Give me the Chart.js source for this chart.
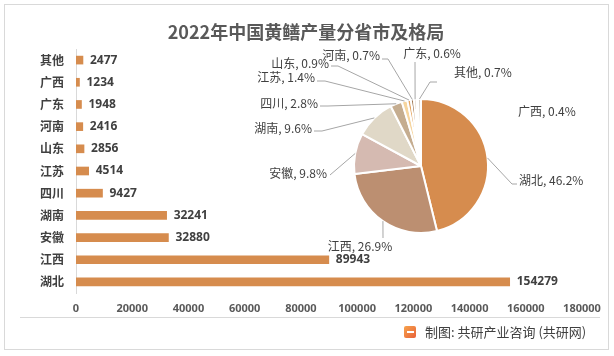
<!DOCTYPE html>
<html><head><meta charset="utf-8">
<script src="https://cdn.jsdelivr.net/npm/chart.js@4"></script>
<style>
html,body{margin:0;padding:0;background:#fff;}
#wrap{position:relative;width:614px;height:356px;overflow:hidden;font-family:"Noto Sans CJK SC","Noto Sans",sans-serif;}
canvas{position:absolute;left:0;top:0;}
#frame{position:absolute;left:4px;top:4px;width:605px;height:346px;border:1px solid #D9D9D9;box-sizing:border-box;}
#sep{position:absolute;left:20px;top:317px;width:580px;height:1px;background:#D9D9D9;}
#title{position:absolute;left:0;top:18px;width:612px;text-align:center;font-weight:bold;font-size:18px;line-height:26px;color:#595959;}
#foot{position:absolute;left:425px;top:323px;font-size:13px;line-height:18px;color:#404040;white-space:nowrap;}
#logo{position:absolute;left:404px;top:326px;width:12px;height:12px;border-radius:2px;background:linear-gradient(135deg,#F7A34B,#E8613A);}
#logo:after{content:"";position:absolute;left:3px;top:5px;width:7px;height:2px;background:#fff;}
</style></head>
<body>
<div id="wrap">
  <div id="frame"></div>
  <canvas id="bar" width="614" height="356"></canvas>
  <canvas id="pie" width="614" height="356"></canvas>
  <div id="sep"></div>
  <div id="title">2022年中国黄鳝产量分省市及格局</div>
  <div id="logo"></div>
  <div id="foot">制图: 共研产业咨询 (共研网)</div>
</div>
<script>
// ---- data ----
const categories = ['其他','广西','广东','河南','山东','江苏','四川','湖南','安徽','江西','湖北'];
const output = [2477,1234,1948,2416,2856,4514,9427,32241,32880,89943,154279];
const xTickValues = [0,20000,40000,60000,80000,100000,120000,140000,160000,180000];
const pieOrder = ['湖北','江西','安徽','湖南','四川','江苏','山东','河南','广东','广西','其他'];
const pieValues = pieOrder.map(n => output[categories.indexOf(n)]);

// ---- styles ----
const barColor = '#D68C4E';
const pieColors = ['#D68C4E','#BC8F71','#D5BAB1','#E0D8C7','#C5AD90','#F6D59E','#E5A561','#8C5A2E','#A87A55','#E8D2B8','#D9D0C5'];
const textColor = '#404040';

const barLabelPlugin = {
  id:'barLabels',
  afterDatasetsDraw(chart){
    const ctx = chart.ctx;
    const meta = chart.getDatasetMeta(0);
    ctx.save();
    ctx.font = 'bold 12px "Noto Sans","Noto Sans CJK SC",sans-serif';
    ctx.fillStyle = textColor;
    ctx.textAlign = 'left';
    ctx.textBaseline = 'middle';
    meta.data.forEach((el,i)=>{
      ctx.fillText(String(chart.data.datasets[0].data[i]), el.x + 7, el.y);
    });
    ctx.restore();
  }
};

new Chart(document.getElementById('bar'), {
  type:'bar',
  data:{labels:categories, datasets:[{data:output, backgroundColor:barColor, barThickness:8}]},
  options:{
    indexAxis:'y', responsive:false, animation:false,
    layout:{padding:{left:0,right:32,top:49,bottom:36}},
    plugins:{legend:{display:false}, tooltip:{enabled:false}},
    scales:{
      x:{min:0,max:180000,
         afterBuildTicks(s){ s.ticks = xTickValues.map(v=>({value:v})); },
         afterFit(s){ s.height = 27; },
         grid:{display:false, drawTicks:false}, border:{display:false},
         ticks:{padding:9, maxRotation:0, autoSkip:false, color:'#595959',
                callback:(v)=>String(v),
                font:{size:11, weight:'bold', family:'"Noto Sans",sans-serif'}}},
      y:{afterFit(s){ s.width = 76; },
         grid:{display:false, drawTicks:false}, border:{display:true, color:'#D9D9D9'},
         ticks:{padding:12, color:textColor, font:{size:12, weight:'bold', family:'"Noto Sans CJK SC",sans-serif'}}}
    }
  },
  plugins:[barLabelPlugin]
});

// label placement for pie (positions only)
const pieLabelLayout = {
  '湖北':{tx:519,ty:180,align:'left',path:[[512,184],[517,184]]},
  '江西':{tx:360,ty:246,align:'center',path:[[383,238]]},
  '安徽':{tx:327,ty:173,align:'right',path:[[330,175]]},
  '湖南':{tx:312,ty:128,align:'right',path:[[322,131],[314,131]]},
  '四川':{tx:318,ty:103,align:'right',path:[[328,106],[320,106]]},
  '江苏':{tx:315,ty:77,align:'right',path:[[325,81],[317,81]]},
  '山东':{tx:329,ty:63,align:'right',path:[[338,66],[331,66]]},
  '河南':{tx:380,ty:55,align:'right',path:[[388,59],[382,59]]},
  '广东':{tx:432,ty:53,align:'center',path:[[415,62]]},
  '广西':{tx:518,ty:111,align:'left',path:null},
  '其他':{tx:454,ty:72,align:'left',path:[[430,82],[437,82]]}
};

const pieLabelPlugin = {
  id:'pieLabels',
  afterDatasetsDraw(chart){
    const ctx = chart.ctx;
    const ds = chart.data.datasets[0];
    const total = ds.data.reduce((a,b)=>a+b,0);
    const meta = chart.getDatasetMeta(0);
    ctx.save();
    meta.data.forEach((el,i)=>{
      const name = chart.data.labels[i];
      const lay = pieLabelLayout[name];
      const p = el.getProps(['x','y','startAngle','endAngle','outerRadius'], true);
      const mid = (p.startAngle + p.endAngle)/2;
      const ex = p.x + Math.cos(mid)*p.outerRadius;
      const ey = p.y + Math.sin(mid)*p.outerRadius;
      if(lay.path){
        ctx.beginPath();
        ctx.strokeStyle = '#A6A6A6';
        ctx.lineWidth = 1;
        ctx.moveTo(ex,ey);
        lay.path.forEach(pt=>ctx.lineTo(pt[0],pt[1]));
        ctx.stroke();
      }
      ctx.font = '12px "Noto Sans CJK SC","Noto Sans",sans-serif';
      ctx.fillStyle = textColor;
      ctx.textAlign = lay.align;
      ctx.textBaseline = 'middle';
      ctx.fillText(name + ', ' + (ds.data[i]/total*100).toFixed(1) + '%', lay.tx, lay.ty);
    });
    ctx.restore();
  }
};

new Chart(document.getElementById('pie'), {
  type:'pie',
  data:{labels:pieOrder, datasets:[{data:pieValues, backgroundColor:pieColors, borderColor:'#FFFFFF', borderWidth:2}]},
  options:{
    responsive:false, animation:false,
    layout:{padding:{left:353,right:125,top:98,bottom:122}},
    plugins:{legend:{display:false}, tooltip:{enabled:false}}
  },
  plugins:[pieLabelPlugin]
});
</script>
</body></html>
